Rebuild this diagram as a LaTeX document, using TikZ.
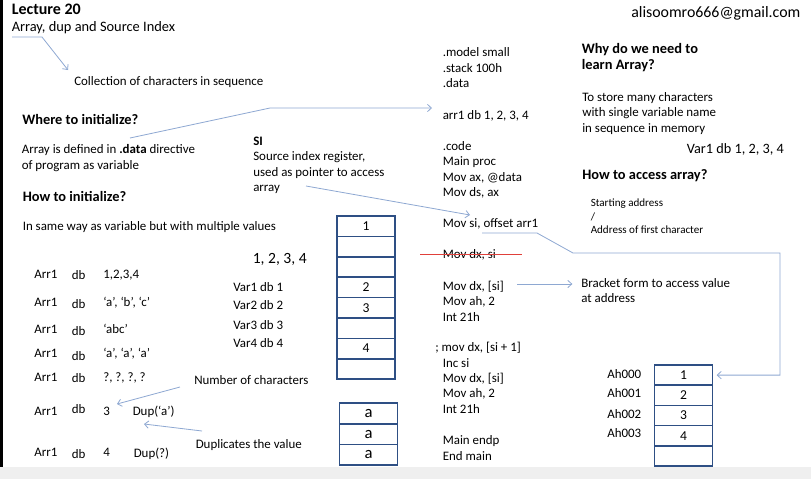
\documentclass[tikz,border=0pt]{standalone}
\usepackage{fontspec}
\setmainfont{Carlito}
\usetikzlibrary{arrows.meta, positioning, calc}
\definecolor{clink}{HTML}{8EA8D2}
\definecolor{cbox}{HTML}{2E4F84}
\definecolor{cred}{HTML}{E0403A}
\definecolor{cstrip}{HTML}{EFEFEF}
\tikzset{
  every picture/.style={x=0.75pt, y=-0.75pt},
  txt/.style={anchor=west, inner sep=0pt, text height=6.25pt, text depth=0pt, font=\fontsize{9.7}{11.6}\selectfont},
  small/.style={txt, text height=5.35pt, font=\fontsize{8.3}{10}\selectfont},
  head/.style={txt, text height=6.95pt, font=\bfseries\fontsize{10.8}{13.5}\selectfont},
  big/.style={txt, text height=7.5pt, font=\fontsize{11.7}{14}\selectfont},
  link/.style={draw=clink, line width=0.6pt},
  arrow/.style={link, -{Straight Barb[length=3pt, width=5.5pt]}},
  cell/.style={draw=cbox, line width=1.2pt, minimum width=43.5pt, minimum height=#1, inner sep=0pt, font=\fontsize{10.2}{12}\selectfont},
  cell/.default=15.3pt,
}

\begin{document}
\begin{tikzpicture}
  \fill[white] (0,0) rectangle (811,479);
  \useasboundingbox (0,0) rectangle (811,479);
  \fill[black] (0,0) rectangle (2.5,467);
  \fill[cstrip] (0,467) rectangle (811,479);
  % title and the left column
  \node[head, text height=7.4pt, font=\bfseries\fontsize{12}{14}\selectfont] (lecture) at (11.5,10) {Lecture 20};
  \node[txt, text height=6.95pt, font=\fontsize{10.8}{13.5}\selectfont] (topic) at (11.5,26.5) {Array, dup and Source Index};
  \node[txt] (collection) at (74,81.5) {Collection of characters in sequence};
  \node[head] (where) at (22,120) {Where to initialize?};
  \node[txt] (defined1) at (21.5,149.5) {Array is defined in \textbf{.data} directive};
  \node[txt] (defined2) at (21.5,165.5) {of program as variable};
  \node[head] (how) at (22.5,196.5) {How to initialize?};
  \node[txt] (same) at (22.5,226.5) {In same way as variable but with multiple values};
  \foreach \y/\yd/\v [count=\i] in {274.5/275.5/{1,2,3,4}, 302.5/304/{‘a’, ‘b’, ‘c’}, 329.5/331.5/‘abc’, 353.5/356/{‘a’, ‘a’, ‘a’},
                                    377.5/378.5/{?, ?, ?, ?}, 411/409.5/3, 452.5/454.5/4} {
    \node[txt] (arr\i) at (34,\y) {Arr1};
    \node[txt] (db\i) at (71.5,\yd) {db};
    \node[txt] (val\i) at (103,\y) {\v};
  }
  \node[txt] (dupa) at (132.5,411.5) {Dup(‘a’)};
  \node[txt] (dupq) at (133.5,453.5) {Dup(?)};
  \node[txt] (number) at (194,380) {Number of characters};
  \node[txt] (duplicates) at (195.5,444) {Duplicates the value};
  % SI note and the separate variables
  \node[txt, font=\bfseries\fontsize{9.7}{11.6}\selectfont] (si) at (253,141) {SI};
  \node[txt] (si1) at (253,156.5) {Source index register,};
  \node[txt] (si2) at (253,172) {used as pointer to access};
  \node[txt] (si3) at (253,187) {array};
  \node[big] (list) at (252.5,258) {1, 2, 3, 4};
  \foreach \y [count=\i] in {287, 305.5, 325, 343} {
    \node[txt] (var\i) at (233,\y) {Var\i{} db \i};
  }
  % memory boxes
  \foreach \v [count=\i from 0] in {1,{},{},2,3,{},4,{}} {
    \node[cell] (sa\i) at (366,{226.2+20.4*\i}) {\v};
  }
  \foreach \v [count=\i from 0] in {a,a,a} {
    \node[cell=15.5pt, font=\fontsize{12.5}{14}\selectfont] (sb\i) at (368.5,{413.35+20.7*\i}) {\v};
  }
  \foreach \v [count=\i from 0] in {1,2,3,4,{}} {
    \node[cell=15.15pt] (sc\i) at (683.5,{375.1+20.2*\i}) {\v};
  }
  \foreach \y [count=\i from 0] in {374.5, 393.5, 414, 433.5} {
    \node[txt] (ah\i) at (607,\y) {Ah00\i};
  }
  % program listing
  \foreach \y/\t [count=\i] in {52.5/.model small, 68/.stack 100h, 83.5/.data, 115/{arr1 db 1, 2, 3, 4}, 146/.code, 161/Main proc,
                               177/{Mov ax, @data}, 192/{Mov ds, ax}, 223/{Mov si, offset arr1}, 254.5/{Mov dx, si}, 286/{Mov dx, [si]},
                               301/{Mov ah, 2}, 317/Int 21h, 363/Inc si, 378.5/{Mov dx, [si]}, 393.5/{Mov ah, 2}, 409/Int 21h,
                               440.5/Main endp, 456/End main} {
    \node[txt] (code\i) at (442.5,\y) {\t};
  }
  \node[txt] (comment) at (435,347.5) {; mov dx, [si + 1]};
  \draw[cred, line width=0.9pt] ($(code10.west)+(-22.5,0)$) -- ($(code10.east)+(26,0)$);
  % right column
  \node[txt, text height=7.65pt, font=\fontsize{11.9}{14}\selectfont] (mail) at (631,12.5) {alisoomro666@gmail.com};
  \node[head] (why1) at (581.5,48.5) {Why do we need to};
  \node[head] (why2) at (581.5,65) {learn Array?};
  \node[txt] (store1) at (582,97.5) {To store many characters};
  \node[txt] (store2) at (582,112.5) {with single variable name};
  \node[txt] (store3) at (582,128) {in sequence in memory};
  \node[txt, text height=6.9pt, font=\fontsize{10.7}{13}\selectfont] (arr) at (686.5,148.5) {Var1 db 1, 2, 3, 4};
  \node[head] (access) at (582,175) {How to access array?};
  \node[small] (start1) at (590.5,203) {Starting address};
  \node[small] (start2) at (590.5,216.5) {/};
  \node[small] (start3) at (590.5,230) {Address of first character};
  \node[txt] (bracket1) at (581,283) {Bracket form to access value};
  \node[txt] (bracket2) at (581,298) {at address};
  % connectors
  \coordinate (tA) at (12,37);
  \coordinate (tB) at (42,37);
  \coordinate (tC) at (68,70);
  \draw[arrow] (tA) -- (tB) -- (tC);
  \coordinate (dA) at (130,138);
  \coordinate (dB) at (270,108);
  \coordinate (dC) at (432,108);
  \draw[arrow] (dA) -- (dB) -- (dC);
  \coordinate (sA) at (306,186);
  \coordinate (sB) at (470,215);
  \draw[arrow] (sA) -- (sB);
  \coordinate (oA) at (482,233);
  \coordinate (oB) at (537,233);
  \coordinate (oC) at (573,253);
  \coordinate (oD) at (780,253);
  \draw[arrow, shorten >=2.5pt] (oA) -- (oB) -- (oC) -- (oD) |- (sc0.east);
  \coordinate (bA) at (517,284);
  \draw[arrow, shorten >=6.5pt] (bA) -- (bA -| bracket1.west);
  \coordinate (nA) at (180,387);
  \coordinate (nB) at (117,404);
  \draw[arrow] (nA) -- (nB);
  \coordinate (uA) at (202,431);
  \coordinate (uB) at (144,424);
  \draw[arrow] (uA) -- (uB);
\end{tikzpicture}
\end{document}
